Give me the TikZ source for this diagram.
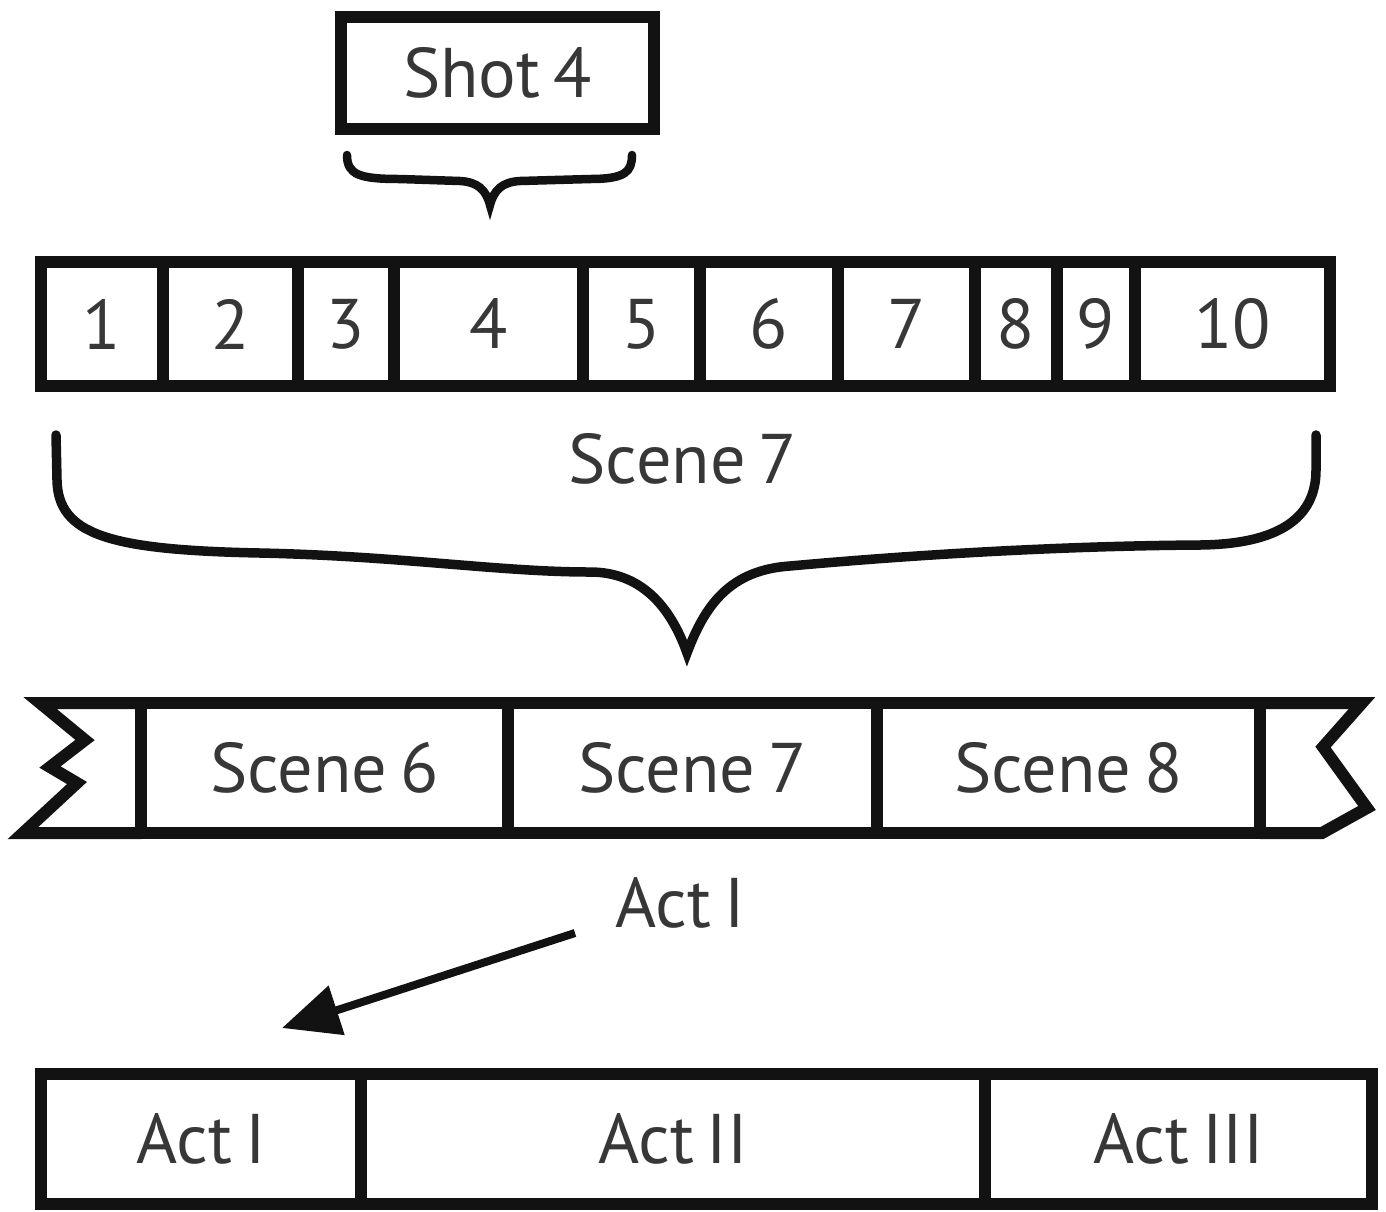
\documentclass[tikz,border=0pt]{standalone}
\usepackage{fontspec}
\setmainfont[WordSpace=0.7]{PT Sans}
\usetikzlibrary{arrows.meta}
\definecolor{ink}{RGB}{18,18,18}
\definecolor{txt}{RGB}{55,55,55}
% one framed cell: name, left, right, top, bottom (in grid units), text
\newcommand\cellnode[6]{\node[cellbox, minimum width={(#3-#2)*0.02cm}, minimum height={(#5-#4)*0.02cm}] (#1) at ({(#2+#3)/2},{(#4+#5)/2}) {#6};}
\begin{document}
\begin{tikzpicture}[x=0.02cm,y=-0.02cm,
  bigtext/.style={text=txt, font=\fontsize{40}{48}\selectfont},
  cellbox/.style={draw=ink, line width=0.24cm, inner sep=0pt, outer sep=0pt, bigtext},
  brace/.style={draw=ink, line width=0.19cm, line cap=round, line join=miter},
  pointer/.style={draw=ink, line width=0.16cm, -{Triangle[length=1.15cm,width=1.0cm]}}]
\useasboundingbox (0,0) rectangle (1386,1211);

% shot
\cellnode{shot}{341}{654}{17}{129}{Shot 4}
\draw[brace, line width=0.17cm] (347,155) .. controls (347,175) and (360,179) .. (400,179) -- (460,181) .. controls (478,182) and (486,190) .. (490,205) .. controls (494,190) and (502,182) .. (520,181) -- (590,179) .. controls (625,179) and (632,172) .. (632,155);

% shots of the scene
\cellnode{c1}{41}{163}{262}{386}{1}
\cellnode{c2}{163}{298}{262}{386}{2}
\cellnode{c3}{298}{394}{262}{386}{3}
\cellnode{c4}{394}{583}{262}{386}{4}
\cellnode{c5}{583}{700}{262}{386}{5}
\cellnode{c6}{700}{838}{262}{386}{6}
\cellnode{c7}{838}{975}{262}{386}{7}
\cellnode{c8}{975}{1057}{262}{386}{8}
\cellnode{c9}{1057}{1135}{262}{386}{9}
\cellnode{c10}{1135}{1330}{262}{386}{10}

\node[bigtext] (scenelbl) at (683,459) {Scene 7};
\draw[brace] (56,435) -- (57,480) .. controls (58,535) and (110,550) .. (260,553) .. controls (400,556) and (500,572) .. (590,572) .. controls (640,572) and (670,605) .. (687,653) .. controls (705,605) and (730,570) .. (790,566) .. controls (900,556) and (1050,546) .. (1200,545) .. controls (1290,544) and (1316,510) .. (1316,470) -- (1316,435);

% scenes
\cellnode{s6}{141}{508}{703}{833}{Scene 6}
\cellnode{s7}{508}{877}{703}{833}{Scene 7}
\cellnode{s8}{877}{1260}{703}{833}{Scene 8}
\draw[ink, line width=0.24cm, line join=miter, miter limit=4] (s6.north west) -- (40,703) -- (85,740) -- (50,767) -- (77,783) -- (23,833) -- (s6.south west);
\draw[ink, line width=0.24cm, line join=miter, miter limit=4] (s8.north east) -- (1362,703) -- (1323,747) -- (1367,808) -- (1322,833) -- (s8.south east);

\node[bigtext] (actlbl) at (680,903) {Act I};
\coordinate (arrtail) at (575,933);
\coordinate (arrtip) at (282,1028);
\draw[pointer] (arrtail) -- (arrtip);

% acts
\cellnode{a1}{41}{361}{1074}{1204}{Act I}
\cellnode{a2}{361}{985}{1074}{1204}{Act II}
\cellnode{a3}{985}{1372}{1074}{1204}{Act III}
\end{tikzpicture}
\end{document}
